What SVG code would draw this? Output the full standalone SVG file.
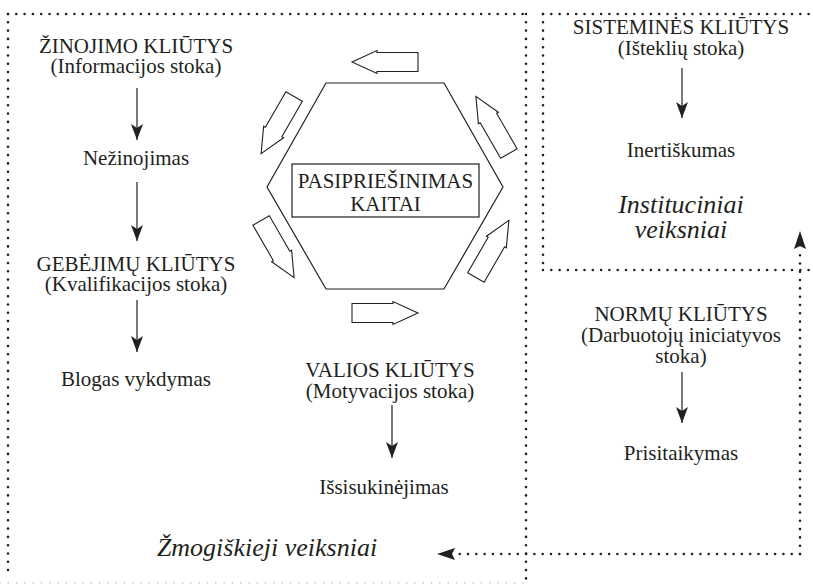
<svg xmlns="http://www.w3.org/2000/svg" width="813" height="585" viewBox="0 0 813 585">
  <defs>
    <style>
      text { font-family: 'Liberation Serif', 'DejaVu Serif', serif; fill: #231f20; text-anchor: middle; }
      .t { font-size: 21px; }
      .it { font-size: 26px; font-style: italic; }
      .dot { fill: none; stroke: #231f20; stroke-width: 2.6; stroke-linecap: round; stroke-dasharray: 0 8.3; }
      .dotlight { fill: none; stroke: #b8b8b8; stroke-width: 1.6; stroke-linecap: round; stroke-dasharray: 0 8.3; }
      .ln { fill: none; stroke: #231f20; stroke-width: 1.2; }
      .blk { fill: #ffffff; stroke: #231f20; stroke-width: 1.1; stroke-linejoin: miter; }
      .head { fill: #231f20; stroke: none; }
    </style>
    <marker id="ah" viewBox="0 0 16 12" refX="16" refY="6" markerWidth="16" markerHeight="12" markerUnits="userSpaceOnUse" orient="auto">
      <path d="M0,0 L16,6 L0,12 L4,6 Z" class="head"/>
    </marker>
    <!-- hollow block arrow pointing along +x, centred at origin -->
    <path id="blockArrow" d="M-33,-9.5 L8,-9.5 L8,-11.5 L33,0 L8,11.5 L8,9.5 L-33,9.5 Z"/>
  </defs>

  <!-- dotted frames -->
  <g id="frames">
    <path class="dot" d="M8,14 H526"/>
    <path class="dot" d="M8,14 V578"/>
    <path class="dot" d="M526,14 V585"/>
    <path class="dotlight" d="M0,583 H526"/>
    <path class="dot" d="M543,14 H811"/>
    <path class="dot" d="M543,14 V270"/>
    <path class="dot" d="M543,270 H813"/>
  </g>

  <!-- connectors -->
  <g id="connectors">
    <line class="ln" x1="137" y1="88" x2="137" y2="140" marker-end="url(#ah)"/>
    <line class="ln" x1="137" y1="182" x2="137" y2="241" marker-end="url(#ah)"/>
    <line class="ln" x1="137" y1="300" x2="137" y2="352" marker-end="url(#ah)"/>
    <line class="ln" x1="392" y1="405" x2="392" y2="458" marker-end="url(#ah)"/>
    <line class="ln" x1="682" y1="68" x2="682" y2="118" marker-end="url(#ah)"/>
    <line class="ln" x1="682" y1="372" x2="682" y2="423" marker-end="url(#ah)"/>
    <!-- dotted feedback links -->
    <path class="dot" d="M800,554 V250"/>
    <path class="dot" d="M800,554 H455"/>
    <path class="head" d="M800,231 L806,249 L800,246 L794,249 Z"/>
    <path class="head" d="M437,554 L455,548 L452,554 L455,560 Z"/>
  </g>

  <!-- central node -->
  <g id="resistance">
    <polygon class="ln" points="326,83 444,83 503,187 444,289 326,289 267,187"/>
    <rect class="ln" x="292" y="164" width="187" height="53"/>
    <text class="t" x="385.5" y="188">PASIPRIEŠINIMAS</text>
    <text class="t" x="385.5" y="211">KAITAI</text>
  </g>

  <!-- circulating block arrows -->
  <g id="cycle" transform="translate(385,187)">
    <use href="#blockArrow" class="blk" transform="rotate(-90) translate(125,0) rotate(-90)"/>
    <use href="#blockArrow" class="blk" transform="rotate(-150) translate(124,0) rotate(-90)"/>
    <use href="#blockArrow" class="blk" transform="rotate(150) translate(124,0) rotate(-90)"/>
    <use href="#blockArrow" class="blk" transform="rotate(90) translate(126,0) rotate(-90)"/>
    <use href="#blockArrow" class="blk" transform="rotate(30) translate(124,0) rotate(-90)"/>
    <use href="#blockArrow" class="blk" transform="rotate(-30) translate(124,0) rotate(-90)"/>
  </g>

  <!-- human factors -->
  <g id="knowledge">
    <text class="t" x="136" y="53">ŽINOJIMO KLIŪTYS</text>
    <text class="t" x="136" y="73">(Informacijos stoka)</text>
  </g>
  <g id="ignorance">
    <text class="t" x="136" y="165">Nežinojimas</text>
  </g>
  <g id="ability">
    <text class="t" x="136" y="271">GEBĖJIMŲ KLIŪTYS</text>
    <text class="t" x="136" y="291">(Kvalifikacijos stoka)</text>
  </g>
  <g id="poor-performance">
    <text class="t" x="136" y="386">Blogas vykdymas</text>
  </g>
  <g id="will">
    <text class="t" x="390" y="377">VALIOS KLIŪTYS</text>
    <text class="t" x="390" y="398">(Motyvacijos stoka)</text>
  </g>
  <g id="evasion">
    <text class="t" x="384" y="494">Išsisukinėjimas</text>
  </g>
  <g id="human-factors">
    <text class="it" x="267" y="556">Žmogiškieji veiksniai</text>
  </g>

  <!-- institutional factors -->
  <g id="system">
    <text class="t" x="681" y="34">SISTEMINĖS KLIŪTYS</text>
    <text class="t" x="681" y="55">(Išteklių stoka)</text>
  </g>
  <g id="inertia">
    <text class="t" x="681" y="157">Inertiškumas</text>
  </g>
  <g id="institutional-factors">
    <text class="it" x="681" y="213">Instituciniai</text>
    <text class="it" x="681" y="238">veiksniai</text>
  </g>
  <g id="norms">
    <text class="t" x="681" y="321">NORMŲ KLIŪTYS</text>
    <text class="t" x="681" y="342">(Darbuotojų iniciatyvos</text>
    <text class="t" x="681" y="363">stoka)</text>
  </g>
  <g id="adaptation">
    <text class="t" x="681" y="460">Prisitaikymas</text>
  </g>
</svg>
